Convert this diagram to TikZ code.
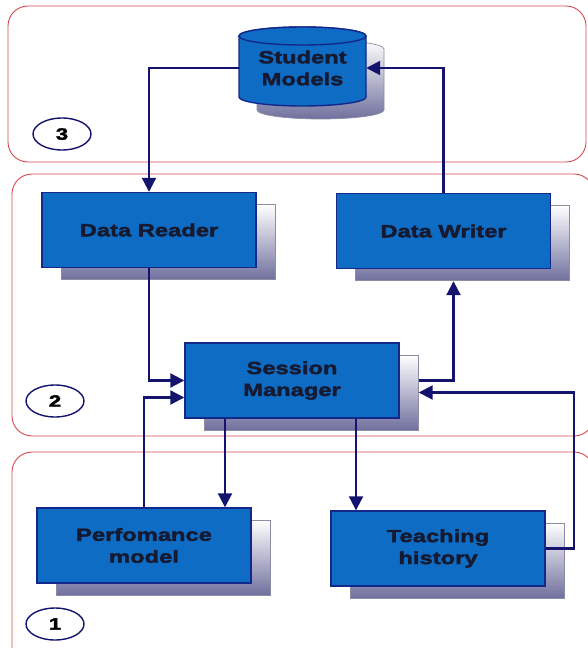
\documentclass[tikz,border=0pt]{standalone}
\usepackage{fontspec}
\newfontfamily\boxfont{Liberation Sans}[FakeStretch=1.35, BoldFeatures={FakeBold=2.5}]
\usetikzlibrary{positioning}
\usetikzlibrary{arrows.meta}
\usetikzlibrary{shadows}
\usetikzlibrary{shapes.geometric}

\definecolor{boxblue}{RGB}{14,108,196}
\definecolor{boxline}{RGB}{20,40,140}
\definecolor{flowline}{RGB}{20,20,110}
\definecolor{boxtext}{RGB}{22,26,48}
\definecolor{shadowblue}{RGB}{112,112,158}
\definecolor{shadowline}{RGB}{140,140,165}
\definecolor{panelred}{RGB}{215,75,80}

\tikzset{
  panel/.style={draw=panelred, line width=0.8pt, rounded corners=6mm},
  box/.style={draw=boxline, fill=boxblue, line width=1.2pt,
    minimum width=64.2mm, minimum height=22.5mm, align=center,
    text=boxtext, font=\boxfont\bfseries\fontsize{15}{18.7}\selectfont,
    drop shadow={shadow xshift=5.7mm, shadow yshift=-3.6mm, opacity=1,
      top color=white, bottom color=shadowblue, draw=shadowline, line width=0.6pt}},
  cylbody/.style={draw=boxline, fill=boxblue, line width=1.2pt},
  cylshadow/.style={draw=shadowline, line width=0.6pt, top color=white, bottom color=shadowblue},
  numcirc/.style={ellipse, draw=flowline, line width=1.2pt, minimum width=17.4mm,
    minimum height=9.6mm, font=\boxfont\bfseries\fontsize{14}{16}\selectfont},
  flow/.style={draw=flowline, line width=1.8pt, -{Triangle[length=4.2mm, width=4.2mm]}}
}

\begin{document}
\begin{tikzpicture}[x=0.3mm, y=-0.3mm]
  \useasboundingbox (0,0) rectangle (587,648);

  % the three panels
  \draw[panel] (8,6) rectangle (586,162);
  \draw[panel] (12,174) rectangle (594,436);
  \draw[panel] (12,452) rectangle (594,670);

  % student models store
  \begin{scope}[shift={(18,13)}]
    \draw[cylshadow] (239,36) -- (239,97) arc[start angle=180, end angle=360, x radius=19.05mm, y radius=2.7mm]
      -- (366,36) arc[start angle=0, end angle=180, x radius=19.05mm, y radius=2.7mm] -- cycle;
  \end{scope}
  \draw[cylbody] (239,36) -- (239,97) arc[start angle=180, end angle=360, x radius=19.05mm, y radius=2.7mm]
    -- (366,36) arc[start angle=0, end angle=180, x radius=19.05mm, y radius=2.7mm] -- cycle;
  \draw[cylbody] (302.5,36) ellipse [x radius=19.05mm, y radius=2.7mm];
  \node[minimum width=38.1mm, minimum height=18.3mm, align=center, text=boxtext,
    font=\boxfont\bfseries\fontsize{15}{18.7}\selectfont] (smod) at (302.5,68) {Student\\Models};

  % boxes
  \node[box] (dr) at (149,230) {Data Reader};
  \node[box] (dw) at (443.5,231) {Data Writer};
  \node[box] (sm) at (292,380.5) {Session\\Manager};
  \node[box] (pm) at (144,545.5) {Perfomance\\model};
  \node[box] (th) at (438,548.5) {Teaching\\history};

  % panel numbers
  \node[numcirc] (n3) at (62,134) {3};
  \node[numcirc] (n2) at (55,401) {2};
  \node[numcirc] (n1) at (55,624) {1};

  % connectors
  \draw[flow] (smod.west) -| (dr.north);
  \draw[flow] (dw.north) |- (smod.east);
  \draw[flow] (dr.south) |- (sm.west);
  \draw[flow] (pm.north) |- ([yshift=-5.1mm]sm.west);
  \draw[flow] ([xshift=-20.1mm]sm.south) -- ([xshift=-20.1mm]sm.south |- pm.north);
  \draw[flow] ([xshift=19.2mm]sm.south) -- ([xshift=19.2mm]sm.south |- th.north);
  \draw[flow] ([xshift=5.7mm]sm.east) -| ([xshift=3mm,yshift=-3.6mm]dw.south);
  \draw[flow] (th.east) -- ++(28,0) |- ([xshift=5.7mm,yshift=-3.6mm]sm.east);
\end{tikzpicture}
\end{document}
